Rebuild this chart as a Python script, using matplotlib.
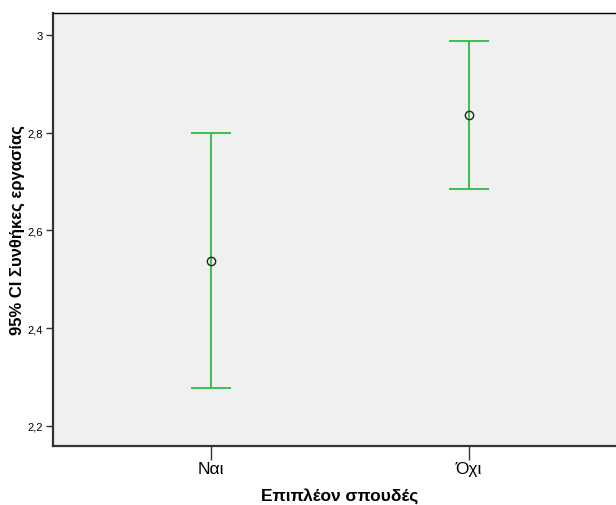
import matplotlib.pyplot as plt
from matplotlib.ticker import FuncFormatter

plt.rcParams['font.family'] = ['Liberation Sans', 'DejaVu Sans']

# Δεδομένα: μέσοι όροι και 95% CI
katigories = ['Ναι', 'Όχι']
meso = [2.538, 2.836]
kato = [2.278, 2.685]
pano = [2.799, 2.988]

prasino = '#3cbf4f'

fig = plt.figure(figsize=(6.16, 5.06), dpi=100)
ax = fig.add_axes([0.086, 0.1166, 0.932, 0.8557])
ax.set_facecolor('#f0f0f0')

x = list(range(len(katigories)))
for i in x:
    ax.vlines(i, kato[i], pano[i], color=prasino, lw=1.4)
    ax.hlines([kato[i], pano[i]], i - 0.078, i + 0.078, color=prasino, lw=1.4)
ax.plot(x, meso, 'o', mfc='none', mec='#222222', ms=6, mew=1)

ax.set_xlim(-0.612, 1.612)
ax.set_ylim(2.159, 3.045)
ax.set_xticks(x)
ax.set_xticklabels(katigories, fontsize=12.5)
ax.set_yticks([2.2, 2.4, 2.6, 2.8, 3.0])
ax.yaxis.set_major_formatter(FuncFormatter(lambda v, p: f'{v:g}'.replace('.', ',')))
ax.tick_params(axis='y', labelsize=8, length=5, width=1, color='#333333', pad=2)
ax.tick_params(axis='x', length=10, width=1, color='#333333', pad=1)

for s in ['left', 'bottom']:
    ax.spines[s].set_linewidth(1.6)
    ax.spines[s].set_color('#333333')
ax.spines['top'].set_linewidth(1)
ax.spines['right'].set_visible(False)

ax.set_xlabel('Επιπλέον σπουδές', fontsize=12.5, fontweight='bold', labelpad=8)
ax.set_ylabel('95% CI Συνθήκες εργασίας', fontsize=12, fontweight='bold', labelpad=2)

fig.savefig('out.png', dpi=100)
